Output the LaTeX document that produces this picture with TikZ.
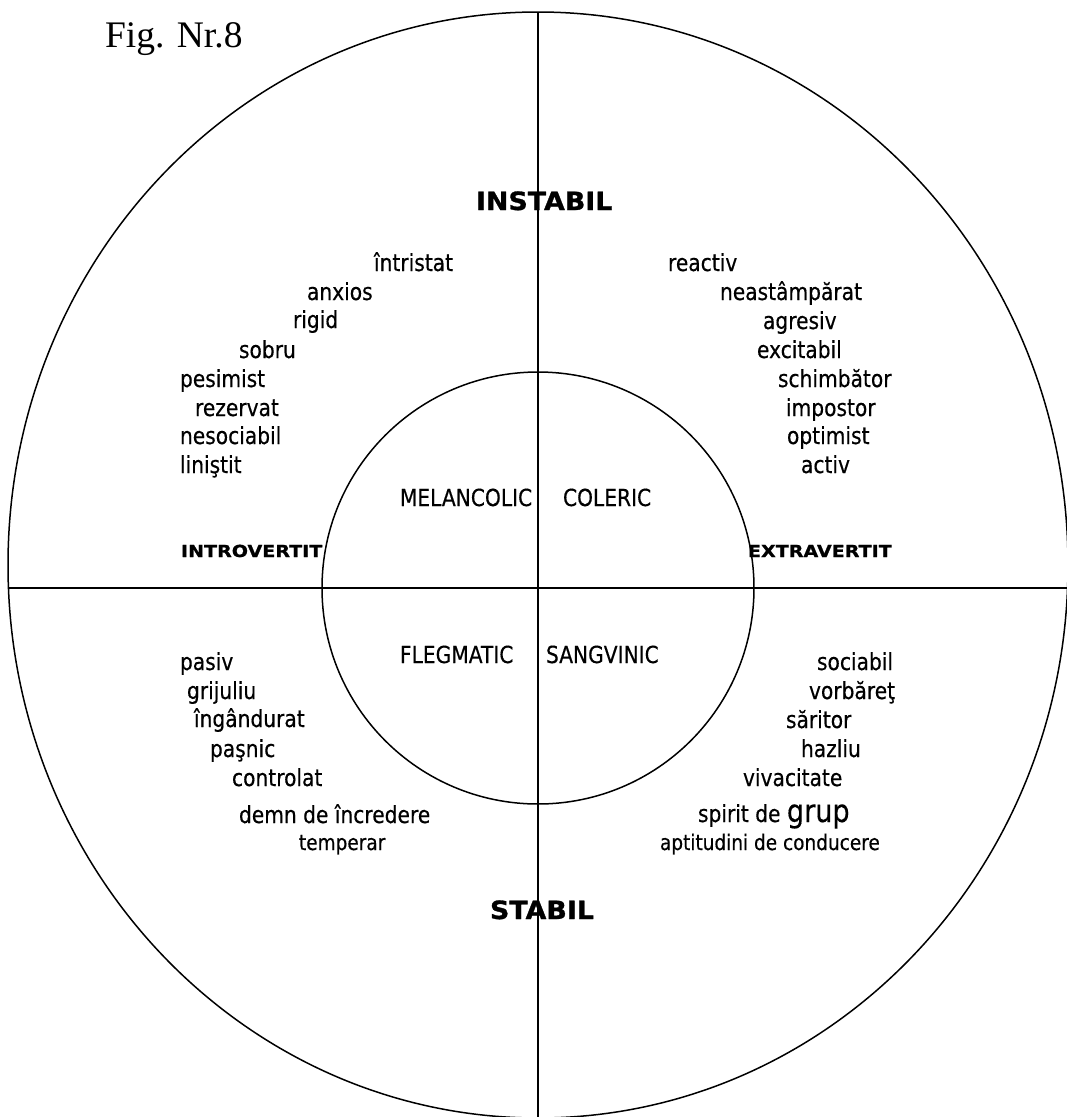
\documentclass[tikz,border=0pt]{standalone}
\usepackage{fontspec}
\usepackage{graphicx}
\setmainfont{DejaVu Sans}[FakeStretch=0.86, FakeBold=0.4]
\newfontfamily\figfont{Liberation Serif}
\newfontfamily\headfont{DejaVu Sans}[FakeStretch=1.07, BoldFeatures={FakeBold=1.2}]
\newfontfamily\sidefont{DejaVu Sans}[FakeStretch=1.15, BoldFeatures={FakeBold=1.0}]
\tikzset{
  axisline/.style={line width=1.5pt, black},
  word/.style={anchor=base west, inner sep=0pt, outer sep=0pt, font=\fontsize{23.5}{28}\selectfont},
  smallword/.style={word, font=\fontsize{21.5}{26}\selectfont},
  headlabel/.style={anchor=base west, inner sep=0pt, outer sep=0pt, font=\headfont\bfseries\fontsize{25.1}{30}\selectfont},
  sidelabel/.style={anchor=base west, inner sep=0pt, outer sep=0pt, font=\sidefont\bfseries\fontsize{16.6}{20}\selectfont},
  figlabel/.style={anchor=base west, inner sep=0pt, outer sep=0pt, font=\figfont\fontsize{37.5}{42}\selectfont}
}
\begin{document}
\begin{tikzpicture}[x=1pt,y=-1pt]
\useasboundingbox (0,0) rectangle (1067,1117);
\clip (0,0) rectangle (1067,1117);
% axes and circles
\coordinate (vt) at (538,12);
\coordinate (vb) at (538,1117);
\coordinate (hl) at (8.5,588);
\coordinate (hr) at (1067,588);
\coordinate (oc) at (538,565);
\coordinate (ic) at (538,588);
\draw[axisline] (oc) ellipse [x radius=530pt, y radius=553pt];
\draw[axisline] (ic) circle [radius=216pt];
\draw[axisline] (vt) -- (vb);
\draw[axisline] (hl) -- (hr);
% title
\node[figlabel] (fig) at (105,47) {Fig. Nr.8};
% axis labels
\node[headlabel] (instabil) at (476,210) {INSTABIL};
\node[headlabel] (stabil) at (490,919) {STABIL};
\node[sidelabel] (introvertit) at (181,557) {INTROVERTIT};
\node[sidelabel] (extravertit) at (748,557) {EXTRAVERTIT};
% temperaments
\node[word] (melancolic) at (400,506) {MELANCOLIC};
\node[word] (coleric) at (563,506) {COLERIC};
\node[word] (flegmatic) at (400,663) {FLEGMATIC};
\node[word] (sangvinic) at (546,663) {SANGVINIC};
% top-left
\node[word] (tl1) at (374,271) {întristat};
\node[word] (tl2) at (307,300) {anxios};
\node[word] (tl3) at (293,328) {rigid};
\node[word] (tl4) at (239,358) {sobru};
\node[word] (tl5) at (180,387) {pesimist};
\node[word] (tl6) at (195,416) {rezervat};
\node[word] (tl7) at (180,444) {nesociabil};
\node[word] (tl8) at (180,473) {liniştit};
% top-right
\node[word] (tr1) at (668,271) {reactiv};
\node[word] (tr2) at (720,300) {neastâmpărat};
\node[word] (tr3) at (763,329) {agresiv};
\node[word] (tr4) at (757,358) {excitabil};
\node[word] (tr5) at (778,387) {schimbător};
\node[word] (tr6) at (786,416) {impostor};
\node[word] (tr7) at (787,444) {optimist};
\node[word] (tr8) at (801,473) {activ};
% bottom-left
\node[word] (bl1) at (180,670) {pasiv};
\node[word] (bl2) at (187,699) {grijuliu};
\node[word] (bl3) at (194,727) {îngândurat};
\node[word] (bl4) at (210,757) {paşnic};
\node[word] (bl5) at (232,786) {controlat};
\node[word] (bl6) at (239,823) {demn de încredere};
\node[smallword] (bl7) at (299,850) {temperar};
% bottom-right
\node[word] (br1) at (817,670) {sociabil};
\node[word] (br2) at (809,699) {vorbăreţ};
\node[word] (br3) at (786,728) {săritor};
\node[word] (br4) at (801,757) {hazliu};
\node[word] (br5) at (743,786) {vivacitate};
\node[word] (br6) at (698,822) {spirit de {\fontsize{31.5}{34}\selectfont grup}};
\node[smallword] (br7) at (660,850) {aptitudini de conducere};
\end{tikzpicture}
\end{document}
